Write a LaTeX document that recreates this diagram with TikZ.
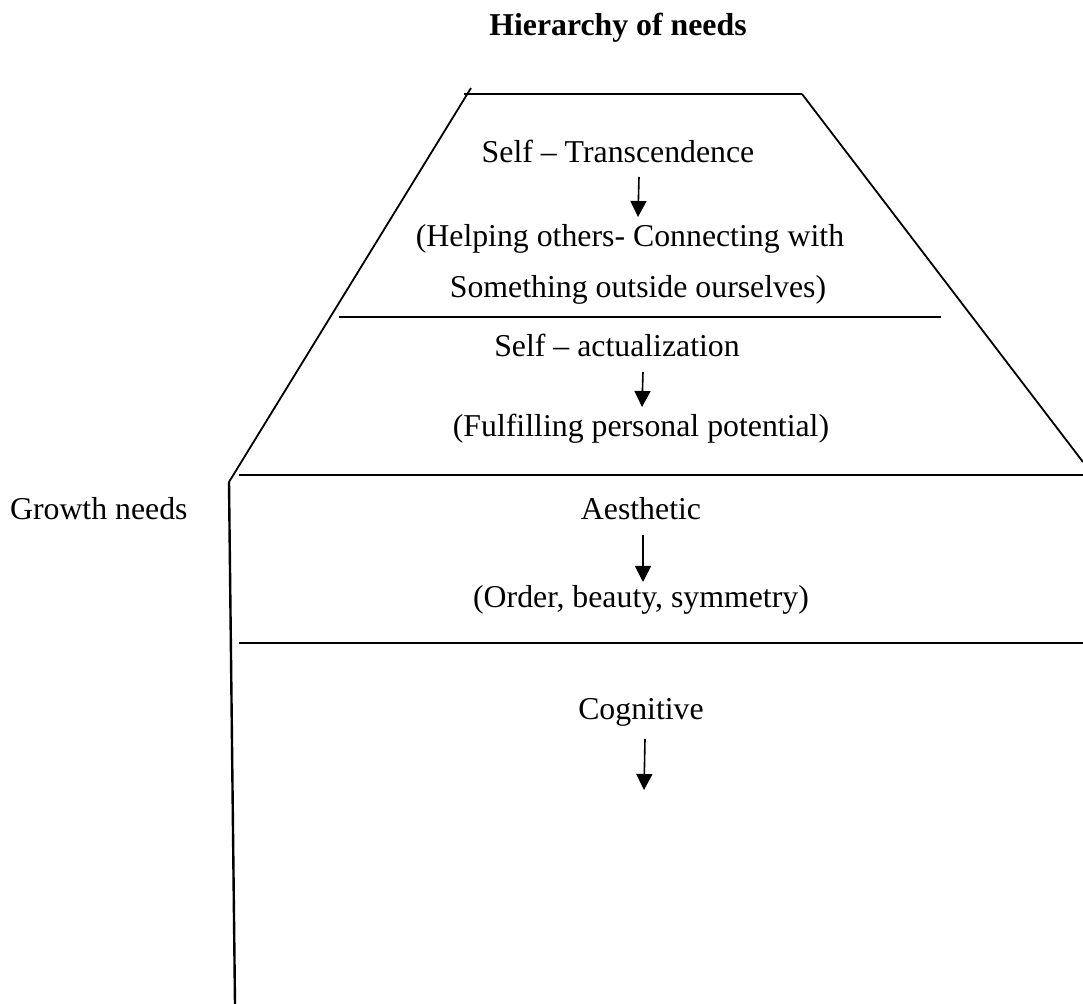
\documentclass[tikz,border=0pt]{standalone}
\usepackage{fontspec}
\setmainfont{Liberation Serif}
\usetikzlibrary{arrows.meta}

\begin{document}
\begin{tikzpicture}[x=0.5pt,y=-0.5pt]
        \tikzset{
        txt/.style={anchor=base, inner sep=0pt, font=\fontsize{15.9}{19}\selectfont},
        hd/.style={txt, font=\fontsize{15.9}{19}\selectfont\bfseries},
        c1/.style={-, line width=1.2pt},
        c2/.style={-, line width=0.9pt},
        ar/.style={-{Triangle[length=8pt,width=8pt]}, line width=0.8pt},
        }
        \useasboundingbox (0,0) rectangle (1083,1004);

        % outline of the pyramid
        \coordinate (p1) at (471,88);
        \coordinate (p2) at (464,94);
        \coordinate (p3) at (802,94);
        \coordinate (p4) at (1083,462);
        \coordinate (p5) at (229,482);
        \coordinate (p6) at (235,1004);
        \coordinate (l1) at (339,317);
        \coordinate (l2) at (941,317);
        \coordinate (l3) at (239,475);
        \coordinate (l4) at (1083,475);
        \coordinate (l5) at (239,643);
        \coordinate (l6) at (1083,643);

        \draw[c1] (p2) edge (p3);
        \draw[c2] (p1) edge (p5);
        \draw[c2] (p3) edge (p4);
        \draw[c1] (p5) edge (p6);
        \draw[c1] (l1) edge (l2);
        \draw[c1] (l3) edge (l4);
        \draw[c1] (l5) edge (l6);

        % labels
        \node[hd] (n0) at (618,36) {Hierarchy of needs};
        \node[txt] (n1) at (618,163) {Self -- Transcendence};
        \node[txt] (n2) at (630,247) {(Helping others- Connecting with};
        \node[txt] (n3) at (638,298) {Something outside ourselves)};
        \node[txt] (n4) at (617,357) {Self -- actualization};
        \node[txt] (n5) at (641,437) {(Fulfilling personal potential)};
        \node[txt] (n6) at (641,520) {Aesthetic};
        \node[txt] (n7) at (641,608) {(Order, beauty, symmetry)};
        \node[txt] (n8) at (641,720) {Cognitive};
        \node[txt, anchor=base east] (n9) at (188,520) {Growth needs};

        % arrows
        \coordinate (a1) at (639,177);
        \coordinate (b1) at (638,217);
        \coordinate (a2) at (643,372);
        \coordinate (b2) at (642,407);
        \coordinate (a3) at (643,535);
        \coordinate (b3) at (643,582);
        \coordinate (a4) at (645,739);
        \coordinate (b4) at (644,790);

        \draw[ar] (a1) -- (b1);
        \draw[ar] (a2) -- (b2);
        \draw[ar] (a3) -- (b3);
        \draw[ar] (a4) -- (b4);
\end{tikzpicture}
\end{document}
